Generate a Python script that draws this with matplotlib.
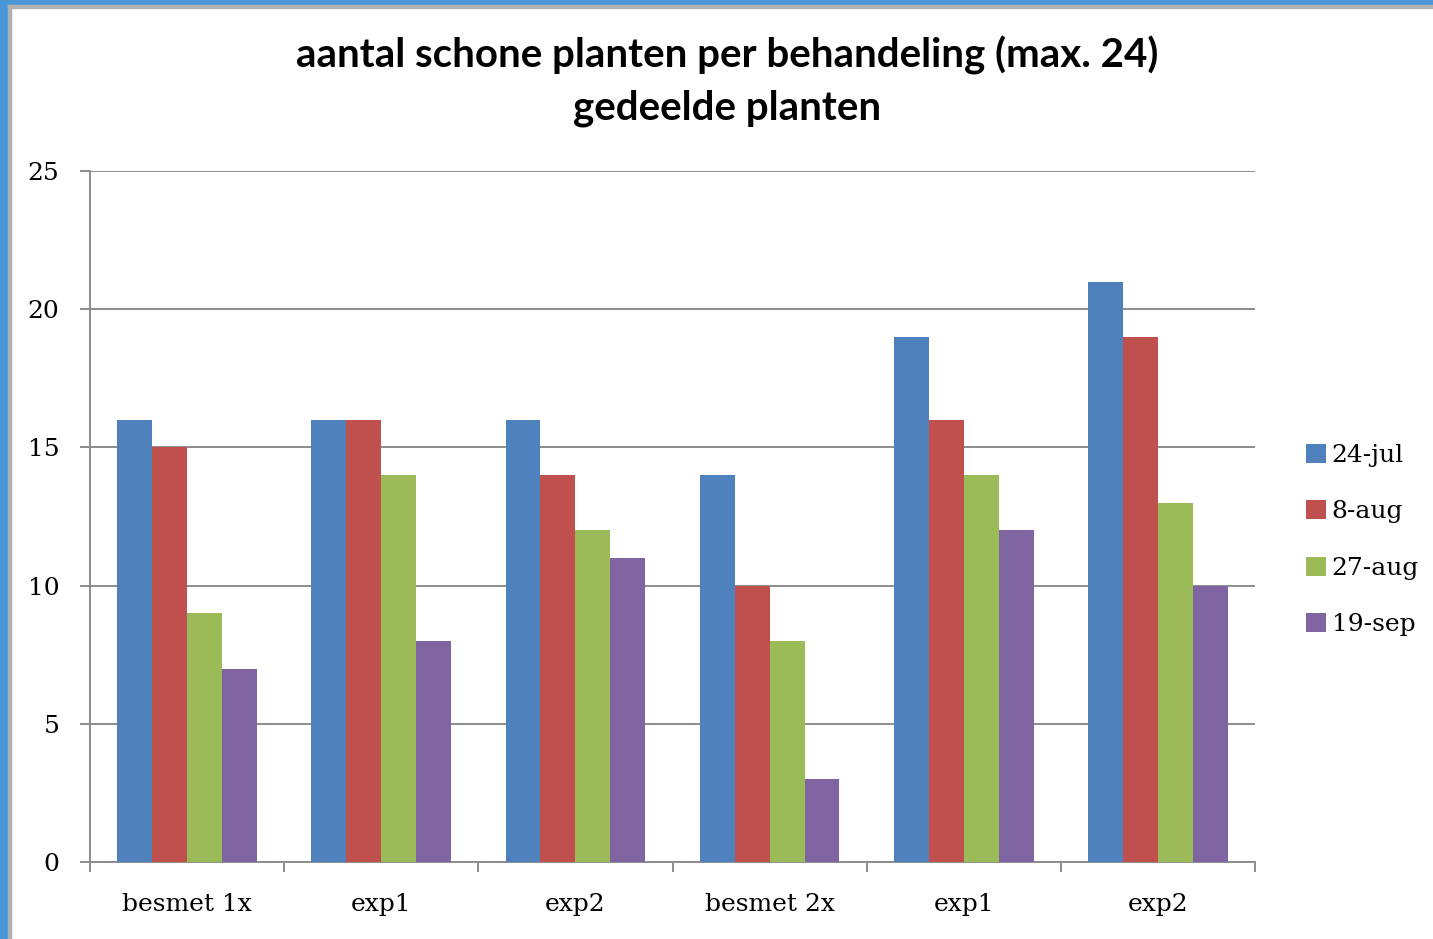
import matplotlib.pyplot as plt
import matplotlib.patches as mpatches
import numpy as np

# data
categories = ['besmet 1x', 'exp1', 'exp2', 'besmet 2x', 'exp1', 'exp2']
dates = ['24-jul', '8-aug', '27-aug', '19-sep']
v_24jul = [16, 16, 16, 14, 19, 21]
v_8aug = [15, 16, 14, 10, 16, 19]
v_27aug = [9, 14, 12, 8, 14, 13]
v_19sep = [7, 8, 11, 3, 12, 10]
series = [v_24jul, v_8aug, v_27aug, v_19sep]
colors = ['#4F81BD', '#C0504D', '#9BBB59', '#8064A2']

W, H = 1433, 939
fig = plt.figure(figsize=(W / 100, H / 100), dpi=100)

# blue frame at the left and top, with a thin grey inner line
fig.patches.append(mpatches.Rectangle((0, 0), 8 / W, 1, transform=fig.transFigure,
                                      color='#4A96D6', zorder=0))
fig.patches.append(mpatches.Rectangle((0, 1 - 5 / H), 1, 5 / H, transform=fig.transFigure,
                                      color='#4A96D6', zorder=0))
fig.patches.append(mpatches.Rectangle((8 / W, 0), 3 / W, 1 - 5 / H, transform=fig.transFigure,
                                      color='#B0B0B0', zorder=0))
fig.patches.append(mpatches.Rectangle((8 / W, 1 - 8 / H), 1, 3 / H, transform=fig.transFigure,
                                      color='#B0B0B0', zorder=0))

ax = fig.add_axes([90 / W, (H - 862) / H, (1255 - 90) / W, (862 - 171) / H])

x = np.arange(len(categories))
bw = 0.18
for i, (vals, c) in enumerate(zip(series, colors)):
    ax.bar(x + (i - 1.5) * bw, vals, width=bw, color=c, label=dates[i], zorder=3)

ax.set_xlim(-0.5, len(categories) - 0.5)
ax.set_ylim(0, 25)
ax.set_yticks(range(0, 26, 5))
ax.yaxis.grid(True, color='#8C8C8C', linewidth=1.4, zorder=0)

tick_font = 'DejaVu Serif'
ax.set_xticks(np.arange(-0.5, len(categories), 1.0))
ax.set_xticklabels([])
ax.set_xticks(x, minor=True)
ax.set_xticklabels(categories, minor=True, fontsize=18, family=tick_font)
ax.tick_params(axis='x', which='minor', length=0, pad=22)
ax.tick_params(axis='x', which='major', length=7, width=1.4, color='#8C8C8C', direction='out')
ax.tick_params(axis='y', length=7, width=1.4, color='#8C8C8C', pad=15, labelsize=18)
for lab in ax.get_yticklabels():
    lab.set_family(tick_font)

for s in ['top', 'right']:
    ax.spines[s].set_visible(False)
for s in ['left', 'bottom']:
    ax.spines[s].set_color('#8C8C8C')
    ax.spines[s].set_linewidth(1.4)

fig.text(727 / W, 1 - 55 / H, 'aantal schone planten per behandeling (max. 24)',
         ha='center', va='center', fontsize=29, fontweight='bold', family='Lato')
fig.text(727 / W, 1 - 108 / H, 'gedeelde planten',
         ha='center', va='center', fontsize=29, fontweight='bold', family='Lato')

leg = fig.legend(loc='upper left', bbox_to_anchor=(1283 / W, 1 - 421 / H), frameon=False,
                 prop={'family': tick_font, 'size': 18},
                 handlelength=0.8, handleheight=0.8, handletextpad=0.25, labelspacing=1.33)

fig.savefig('out.png', dpi=100)
